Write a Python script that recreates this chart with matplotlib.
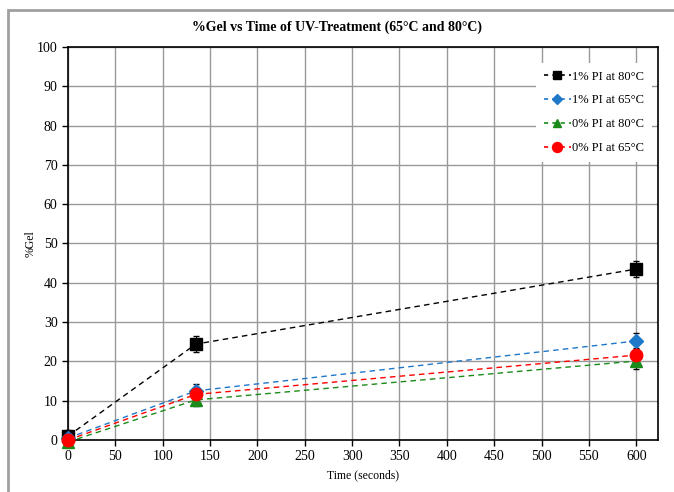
import matplotlib.pyplot as plt
from matplotlib.patches import Rectangle
from matplotlib.lines import Line2D

plt.rcParams['font.family'] = ['Liberation Serif', 'DejaVu Serif']

# Data
time_s = [0, 135, 600]
labels = ['1% PI at 80°C', '1% PI at 65°C', '0% PI at 80°C', '0% PI at 65°C']
gel_1pi_80 = [1.0, 24.4, 43.5]
gel_1pi_65 = [0.5, 12.5, 25.2]
gel_0pi_80 = [-0.5, 10.2, 20.1]
gel_0pi_65 = [0.0, 11.6, 21.6]
err_1pi_80 = [1.5, 2.0, 2.0]
err_1pi_65 = [1.0, 1.8, 2.0]
err_0pi_80 = [0.8, 1.6, 2.0]
err_0pi_65 = [0.8, 1.5, 1.8]

series = [gel_1pi_80, gel_1pi_65, gel_0pi_80, gel_0pi_65]
errors = [err_1pi_80, err_1pi_65, err_0pi_80, err_0pi_65]
colors = ['black', '#1f78c8', '#1a8a1a', 'red']
markers = ['s', 'D', '^', 'o']
msizes = [8, 7, 8, 9]

fig = plt.figure(figsize=(6.74, 4.92), dpi=100)
ax = fig.add_axes([68/674, 1 - 440/492, (658-68)/674, (440-47)/492])

# outer chart border (gray)
fig.patches.append(Rectangle((8/674, -0.1), 1.1, 1 - 10/492 + 0.1, transform=fig.transFigure,
                             fill=False, edgecolor='#a0a0a0', linewidth=2))

handles = []
for y, e, c, m, ms, lab in zip(series, errors, colors, markers, msizes, labels):
    ax.errorbar(time_s, y, yerr=e, color=c, marker=m, markersize=ms, linestyle='--',
                linewidth=1, dashes=(4, 3), ecolor='black', elinewidth=0.8, capsize=2.5,
                zorder=3, clip_on=False)
    handles.append(Line2D([], [], color=c, marker=m, markersize=ms * 0.8,
                          linestyle='--', dashes=(2.5, 2.5), linewidth=1.2, label=lab))

ax.set_xlim(0, 623)
ax.set_ylim(0, 100)
ax.set_xticks(range(0, 601, 50))
ax.set_yticks(range(0, 101, 10))
ax.grid(True, color='#999999', linewidth=1)
ax.set_axisbelow(True)
ax.tick_params(labelsize=10, length=4, width=1, direction='out')
for s in ax.spines.values():
    s.set_linewidth(1.2)

ax.set_xlabel('Time (seconds)', fontsize=8.5)
ax.set_ylabel('%Gel', fontsize=8.5, labelpad=0)
fig.text(0.5, 1 - 27/492, '%Gel vs Time of UV-Treatment (65°C and 80°C)',
         ha='center', va='center', fontsize=10, fontweight='bold')

leg = ax.legend(handles=handles, loc='upper right', bbox_to_anchor=(1.0, 0.975), fontsize=9,
                frameon=True, fancybox=False, edgecolor='none', framealpha=1,
                handlelength=2.2, labelspacing=0.95, handletextpad=0.1, borderpad=0.6)

fig.savefig('out.png', dpi=100)
